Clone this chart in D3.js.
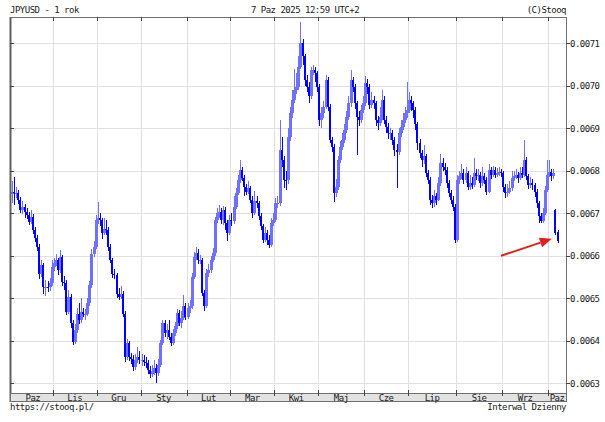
<!DOCTYPE html>
<html><head><meta charset="utf-8">
<script src="https://cdn.jsdelivr.net/npm/d3@7"></script>
<style>
html,body{margin:0;padding:0;background:#fff;}
svg{display:block;}
text{font-family:"DejaVu Sans Mono",monospace;font-size:9px;letter-spacing:-0.5px;fill:#1a1a1a;}
</style></head><body>
<svg id="c" width="605" height="422"></svg>
<script>
const title = "JPYUSD - 1 rok";
const stamp = "7 Paz 2025 12:59 UTC+2";
const credit = "(C)Stooq";
const footLeft = "https://stooq.pl/";
const footRight = "Interwal Dzienny";
const monthLabels = ["Paz","Lis","Gru","Sty","Lut","Mar","Kwi","Maj","Cze","Lip","Sie","Wrz","Paz"];
const monthDays = [20,21,21,22,21,21,21,22,21,23,22,22,5];
const yTicks = [0.0063,0.0064,0.0065,0.0066,0.0067,0.0068,0.0069,0.0070,0.0071];
const yTickLabels = ["0.0063","0.0064","0.0065","0.0066","0.0067","0.0068","0.0069","0.0070","0.0071"];

const opens = [
0.006745,0.006751,0.006747,0.006747,0.006731,0.006707,0.006715,0.006704,0.006696,0.006680,
0.006692,0.006660,0.006641,0.006621,0.006558,0.006578,0.006527,0.006527,0.006526,0.006535,
0.006574,0.006582,0.006590,0.006566,0.006598,0.006539,0.006535,0.006468,0.006504,0.006441,
0.006398,0.006425,0.006464,0.006449,0.006468,0.006464,0.006464,0.006488,0.006531,0.006605,
0.006621,0.006684,0.006688,0.006684,0.006653,0.006664,0.006660,0.006621,0.006590,0.006558,
0.006555,0.006511,0.006504,0.006511,0.006464,0.006362,0.006394,0.006362,0.006358,0.006339,
0.006355,0.006362,0.006355,0.006355,0.006351,0.006347,0.006331,0.006323,0.006328,0.006336,
0.006324,0.006344,0.006395,0.006442,0.006418,0.006426,0.006410,0.006395,0.006418,0.006434,
0.006465,0.006442,0.006453,0.006481,0.006457,0.006477,0.006481,0.006551,0.006598,0.006606,
0.006591,0.006591,0.006512,0.006481,0.006559,0.006567,0.006591,0.006606,0.006685,0.006700,
0.006704,0.006685,0.006708,0.006677,0.006653,0.006685,0.006681,0.006716,0.006747,0.006779,
0.006802,0.006783,0.006763,0.006751,0.006759,0.006732,0.006700,0.006728,0.006724,0.006693,
0.006669,0.006638,0.006653,0.006638,0.006626,0.006677,0.006685,0.006724,0.006724,0.006849,
0.006826,0.006779,0.006778,0.006880,0.006935,0.006967,0.006990,0.006998,0.007045,0.007100,
0.007069,0.007014,0.006998,0.006975,0.007037,0.007037,0.007029,0.006998,0.006920,0.006935,
0.006951,0.007014,0.006951,0.006873,0.006857,0.006747,0.006763,0.006826,0.006857,0.006873,
0.006896,0.006927,0.006959,0.007014,0.006998,0.006959,0.006927,0.006920,0.006943,0.006959,
0.007006,0.006998,0.006955,0.006967,0.006959,0.006920,0.006912,0.006927,0.006967,0.006920,
0.006904,0.006888,0.006888,0.006873,0.006849,0.006845,0.006888,0.006904,0.006920,0.006935,
0.006943,0.006967,0.006959,0.006943,0.006910,0.006865,0.006842,0.006826,0.006834,0.006795,
0.006779,0.006732,0.006724,0.006740,0.006732,0.006771,0.006818,0.006810,0.006802,0.006771,
0.006747,0.006732,0.006716,0.006638,0.006779,0.006787,0.006795,0.006779,0.006795,0.006763,
0.006771,0.006767,0.006795,0.006787,0.006791,0.006771,0.006787,0.006779,0.006751,0.006802,
0.006791,0.006802,0.006791,0.006795,0.006798,0.006795,0.006763,0.006747,0.006751,0.006759,
0.006783,0.006787,0.006791,0.006783,0.006795,0.006791,0.006826,0.006787,0.006767,0.006771,
0.006767,0.006751,0.006724,0.006693,0.006681,0.006700,0.006755,0.006791,0.006798,0.006787,
0.006708,0.006655];

const highs = [
0.006775,0.006786,0.006762,0.006755,0.006738,0.006730,0.006722,0.006712,0.006703,0.006708,
0.006698,0.006668,0.006648,0.006628,0.006590,0.006584,0.006542,0.006540,0.006548,0.006590,
0.006595,0.006605,0.006596,0.006613,0.006603,0.006552,0.006542,0.006520,0.006510,0.006448,
0.006440,0.006478,0.006490,0.006500,0.006478,0.006475,0.006500,0.006540,0.006615,0.006635,
0.006695,0.006727,0.006700,0.006690,0.006690,0.006685,0.006668,0.006628,0.006595,0.006570,
0.006560,0.006525,0.006530,0.006518,0.006470,0.006405,0.006400,0.006372,0.006366,0.006370,
0.006385,0.006375,0.006368,0.006366,0.006362,0.006354,0.006340,0.006342,0.006355,0.006345,
0.006358,0.006402,0.006450,0.006448,0.006440,0.006450,0.006418,0.006428,0.006445,0.006475,
0.006472,0.006470,0.006508,0.006490,0.006488,0.006495,0.006560,0.006610,0.006620,0.006615,
0.006602,0.006596,0.006520,0.006568,0.006580,0.006600,0.006618,0.006692,0.006712,0.006720,
0.006712,0.006718,0.006714,0.006685,0.006695,0.006700,0.006740,0.006760,0.006790,0.006826,
0.006810,0.006790,0.006770,0.006775,0.006765,0.006740,0.006752,0.006740,0.006730,0.006700,
0.006675,0.006668,0.006660,0.006648,0.006688,0.006700,0.006735,0.006740,0.006920,0.006880,
0.006835,0.006800,0.006900,0.006950,0.006990,0.007040,0.007030,0.007070,0.007149,0.007110,
0.007075,0.007025,0.007010,0.007045,0.007050,0.007045,0.007035,0.007005,0.006950,0.006965,
0.007025,0.007020,0.006958,0.006880,0.006862,0.006780,0.006835,0.006870,0.006890,0.006910,
0.006940,0.006975,0.007037,0.007020,0.007005,0.006965,0.006940,0.006955,0.006975,0.007022,
0.007015,0.007005,0.006985,0.006975,0.006965,0.006930,0.006950,0.006990,0.006975,0.006930,
0.006912,0.006900,0.006895,0.006880,0.006862,0.006900,0.006920,0.006935,0.006950,0.007010,
0.006985,0.006975,0.006965,0.006950,0.006915,0.006875,0.006850,0.006860,0.006840,0.006802,
0.006785,0.006742,0.006755,0.006748,0.006785,0.006840,0.006830,0.006818,0.006808,0.006778,
0.006755,0.006740,0.006722,0.006790,0.006800,0.006815,0.006805,0.006808,0.006800,0.006790,
0.006785,0.006830,0.006805,0.006805,0.006798,0.006810,0.006795,0.006785,0.006815,0.006810,
0.006812,0.006808,0.006806,0.006808,0.006805,0.006800,0.006770,0.006770,0.006775,0.006800,
0.006800,0.006805,0.006798,0.006808,0.006810,0.006873,0.006832,0.006792,0.006785,0.006780,
0.006772,0.006758,0.006730,0.006700,0.006712,0.006765,0.006826,0.006826,0.006805,0.006805,
0.006710,0.006660];

const lows = [
0.006725,0.006720,0.006735,0.006722,0.006700,0.006698,0.006690,0.006686,0.006672,0.006675,
0.006652,0.006632,0.006612,0.006545,0.006550,0.006510,0.006505,0.006515,0.006518,0.006530,
0.006565,0.006575,0.006556,0.006560,0.006530,0.006520,0.006460,0.006462,0.006430,0.006390,
0.006392,0.006418,0.006440,0.006442,0.006455,0.006450,0.006458,0.006482,0.006525,0.006598,
0.006615,0.006676,0.006670,0.006640,0.006648,0.006650,0.006612,0.006582,0.006548,0.006545,
0.006500,0.006495,0.006498,0.006455,0.006350,0.006355,0.006352,0.006345,0.006330,0.006332,
0.006348,0.006346,0.006340,0.006340,0.006335,0.006322,0.006312,0.006315,0.006320,0.006300,
0.006318,0.006338,0.006390,0.006410,0.006405,0.006402,0.006388,0.006390,0.006412,0.006428,
0.006435,0.006430,0.006448,0.006450,0.006452,0.006465,0.006476,0.006545,0.006590,0.006580,
0.006580,0.006505,0.006470,0.006478,0.006550,0.006560,0.006585,0.006600,0.006678,0.006690,
0.006675,0.006672,0.006660,0.006635,0.006648,0.006670,0.006676,0.006710,0.006742,0.006772,
0.006775,0.006740,0.006742,0.006745,0.006725,0.006690,0.006695,0.006712,0.006685,0.006660,
0.006630,0.006632,0.006625,0.006618,0.006620,0.006670,0.006680,0.006712,0.006718,0.006810,
0.006760,0.006755,0.006770,0.006870,0.006925,0.006960,0.006980,0.006990,0.007040,0.007050,
0.007000,0.006985,0.006960,0.006970,0.007025,0.007010,0.006985,0.006905,0.006900,0.006925,
0.006945,0.006940,0.006865,0.006845,0.006727,0.006738,0.006755,0.006818,0.006850,0.006865,
0.006890,0.006920,0.006950,0.006985,0.006945,0.006837,0.006905,0.006912,0.006935,0.006952,
0.006980,0.006945,0.006948,0.006945,0.006905,0.006895,0.006905,0.006920,0.006910,0.006890,
0.006875,0.006872,0.006860,0.006835,0.006759,0.006838,0.006880,0.006895,0.006912,0.006925,
0.006935,0.006940,0.006925,0.006895,0.006850,0.006830,0.006810,0.006815,0.006785,0.006768,
0.006720,0.006712,0.006715,0.006720,0.006728,0.006765,0.006800,0.006790,0.006760,0.006738,
0.006722,0.006705,0.006630,0.006632,0.006770,0.006780,0.006768,0.006772,0.006755,0.006755,
0.006758,0.006762,0.006778,0.006775,0.006760,0.006765,0.006768,0.006742,0.006748,0.006780,
0.006785,0.006782,0.006785,0.006788,0.006785,0.006750,0.006735,0.006738,0.006745,0.006752,
0.006775,0.006780,0.006772,0.006778,0.006782,0.006785,0.006778,0.006758,0.006760,0.006755,
0.006738,0.006712,0.006677,0.006677,0.006678,0.006695,0.006750,0.006785,0.006775,0.006780,
0.006648,0.006630];

const closes = [
0.006751,0.006747,0.006747,0.006731,0.006707,0.006715,0.006704,0.006696,0.006680,0.006692,
0.006660,0.006641,0.006621,0.006558,0.006578,0.006527,0.006527,0.006526,0.006535,0.006574,
0.006582,0.006590,0.006566,0.006598,0.006539,0.006535,0.006468,0.006504,0.006441,0.006398,
0.006425,0.006464,0.006449,0.006468,0.006464,0.006464,0.006488,0.006531,0.006605,0.006621,
0.006684,0.006688,0.006684,0.006653,0.006664,0.006660,0.006621,0.006590,0.006558,0.006555,
0.006511,0.006504,0.006511,0.006464,0.006362,0.006394,0.006362,0.006358,0.006339,0.006355,
0.006362,0.006355,0.006355,0.006351,0.006347,0.006331,0.006323,0.006328,0.006336,0.006324,
0.006344,0.006395,0.006442,0.006418,0.006426,0.006410,0.006395,0.006418,0.006434,0.006465,
0.006442,0.006453,0.006481,0.006457,0.006477,0.006481,0.006551,0.006598,0.006606,0.006591,
0.006591,0.006512,0.006481,0.006559,0.006567,0.006591,0.006606,0.006685,0.006700,0.006704,
0.006685,0.006708,0.006677,0.006653,0.006685,0.006681,0.006716,0.006747,0.006779,0.006802,
0.006783,0.006763,0.006751,0.006759,0.006732,0.006700,0.006728,0.006724,0.006693,0.006669,
0.006638,0.006653,0.006638,0.006626,0.006677,0.006685,0.006724,0.006724,0.006849,0.006826,
0.006779,0.006778,0.006880,0.006935,0.006967,0.006990,0.006998,0.007045,0.007100,0.007069,
0.007014,0.006998,0.006975,0.007037,0.007037,0.007029,0.006998,0.006920,0.006935,0.006951,
0.007014,0.006951,0.006873,0.006857,0.006747,0.006763,0.006826,0.006857,0.006873,0.006896,
0.006927,0.006959,0.007014,0.006998,0.006959,0.006927,0.006920,0.006943,0.006959,0.007006,
0.006998,0.006955,0.006967,0.006959,0.006920,0.006912,0.006927,0.006967,0.006920,0.006904,
0.006888,0.006888,0.006873,0.006849,0.006845,0.006888,0.006904,0.006920,0.006935,0.006943,
0.006967,0.006959,0.006943,0.006910,0.006865,0.006842,0.006826,0.006834,0.006795,0.006779,
0.006732,0.006724,0.006740,0.006732,0.006771,0.006818,0.006810,0.006802,0.006771,0.006747,
0.006732,0.006716,0.006638,0.006779,0.006787,0.006795,0.006779,0.006795,0.006763,0.006771,
0.006767,0.006795,0.006787,0.006791,0.006771,0.006787,0.006779,0.006751,0.006802,0.006791,
0.006802,0.006791,0.006795,0.006798,0.006795,0.006763,0.006747,0.006751,0.006759,0.006783,
0.006787,0.006791,0.006783,0.006795,0.006791,0.006826,0.006787,0.006767,0.006771,0.006767,
0.006751,0.006724,0.006693,0.006681,0.006700,0.006755,0.006791,0.006798,0.006787,0.006795,
0.006653,0.006636];

const arrowFrom = {day: 234, value: 0.006600};
const arrowTo = {day: 258.3, value: 0.006640};

// ---- layout ----
const L = 10, R = 566, T = 17, B = 393;
const svg = d3.select("#c");
const x = d3.scaleLinear().domain([0, closes.length - 1]).range([12, 557.5]);
const y = d3.scaleLinear().domain([0.0063, 0.0071]).range([383.3, 43.3]);

// month boundaries (first trading day of each month)
const starts = [];
let acc = 0;
monthDays.forEach(d => { starts.push(acc); acc += d; });
const bounds = starts.map((s, k) => k === 0 ? L : x(s - 0.5));

// grid
const g = svg.append("g");
g.selectAll(".hg").data(yTicks).join("line")
  .attr("x1", L).attr("x2", R)
  .attr("y1", d => Math.round(y(d)) + 0.5).attr("y2", d => Math.round(y(d)) + 0.5)
  .attr("stroke", "#e0e0e0").attr("stroke-width", 1);
g.selectAll(".vg").data(bounds.slice(1)).join("line")
  .attr("x1", d => Math.round(d) + 0.5).attr("x2", d => Math.round(d) + 0.5)
  .attr("y1", T).attr("y2", B)
  .attr("stroke", "#e0e0e0").attr("stroke-width", 1);

// candles: up (light) first, down (dark) on top
const days = d3.range(closes.length);
const up = i => closes[i] >= opens[i];
const upDays = days.filter(up), dnDays = days.filter(i => !up(i));
const cUp = "#7070ff", cDn = "#0000ff";
const px = i => Math.round(x(i));
const cg = svg.append("g").attr("shape-rendering", "crispEdges");
function drawCandles(list, color, bw) {
  const gg = cg.append("g");
  gg.selectAll(".wick").data(list).join("rect")
    .attr("x", i => px(i)).attr("width", 1)
    .attr("y", i => y(highs[i])).attr("height", i => y(lows[i]) - y(highs[i]))
    .attr("fill", color);
  gg.selectAll(".body").data(list).join("rect")
    .attr("x", i => px(i) - 1).attr("width", bw)
    .attr("y", i => y(Math.max(opens[i], closes[i])))
    .attr("height", i => Math.max(1, y(Math.min(opens[i], closes[i])) - y(Math.max(opens[i], closes[i]))))
    .attr("fill", color);
}
drawCandles(upDays, cUp, 3);
drawCandles(dnDays, cDn, 2);

// frame
svg.append("rect").attr("x", L + 0.5).attr("y", T + 0.5).attr("width", R - L).attr("height", B - T)
  .attr("fill", "none").attr("stroke", "#707070").attr("stroke-width", 1);
svg.append("line").attr("x1", L + 0.5).attr("x2", L + 0.5).attr("y1", T).attr("y2", B + 9)
  .attr("stroke", "#606060").attr("stroke-width", 2);

// ticks on frame
const tk = svg.append("g").attr("stroke", "#444").attr("stroke-width", 1);
yTicks.forEach(v => {
  const yy = Math.round(y(v)) + 0.5;
  tk.append("line").attr("x1", L).attr("x2", L + 4).attr("y1", yy).attr("y2", yy);
  tk.append("line").attr("x1", R).attr("x2", R + 4).attr("y1", yy).attr("y2", yy);
});
bounds.slice(1).forEach(bx => {
  const xx = Math.round(bx) + 0.5;
  tk.append("line").attr("x1", xx).attr("x2", xx).attr("y1", T).attr("y2", T + 4);
  tk.append("line").attr("x1", xx).attr("x2", xx).attr("y1", B - 3).attr("y2", B);
});

// y labels
svg.selectAll(".yl").data(yTicks).join("text")
  .attr("x", 570).attr("y", d => y(d) + 3.5).text((d, i) => yTickLabels[i]);

// month band
svg.append("rect").attr("x", L + 0.5).attr("y", B + 0.5).attr("width", R - L).attr("height", 8)
  .attr("fill", "#e2e2e2").attr("stroke", "#707070");
bounds.slice(1).forEach(bx => {
  const xx = Math.round(bx) + 0.5;
  svg.append("line").attr("x1", xx).attr("x2", xx).attr("y1", B).attr("y2", B + 3)
    .attr("stroke", "#444");
});
svg.selectAll(".ml").data(monthLabels).join("text")
  .attr("x", (d, k) => ((k === 0 ? x(-0.5) + 2 : bounds[k]) + (k === monthLabels.length - 1 ? R : bounds[k + 1])) / 2)
  .attr("y", B + 7.5).attr("text-anchor", "middle").text(d => d);

// header / footer
svg.append("text").attr("x", L).attr("y", 13).text(title);
svg.append("text").attr("x", 305).attr("y", 13).attr("text-anchor", "middle").text(stamp);
svg.append("text").attr("x", R).attr("y", 13).attr("text-anchor", "end").text(credit);
svg.append("text").attr("x", L).attr("y", 410).text(footLeft);
svg.append("text").attr("x", R).attr("y", 410).attr("text-anchor", "end").text(footRight);

// arrow annotation
const p0 = [x(arrowFrom.day), y(arrowFrom.value)];
const p1 = [x(arrowTo.day), y(arrowTo.value)];
const ang = Math.atan2(p1[1] - p0[1], p1[0] - p0[0]);
const hl = 12, hw = 5;
const base = [p1[0] - hl * Math.cos(ang), p1[1] - hl * Math.sin(ang)];
svg.append("line").attr("x1", p0[0]).attr("y1", p0[1]).attr("x2", base[0]).attr("y2", base[1])
  .attr("stroke", "#e0201c").attr("stroke-width", 2);
svg.append("path")
  .attr("d", `M${p1[0]},${p1[1]}L${base[0] - hw * Math.sin(ang)},${base[1] + hw * Math.cos(ang)}L${base[0] + hw * Math.sin(ang)},${base[1] - hw * Math.cos(ang)}Z`)
  .attr("fill", "#e0201c");
</script>
</body></html>
